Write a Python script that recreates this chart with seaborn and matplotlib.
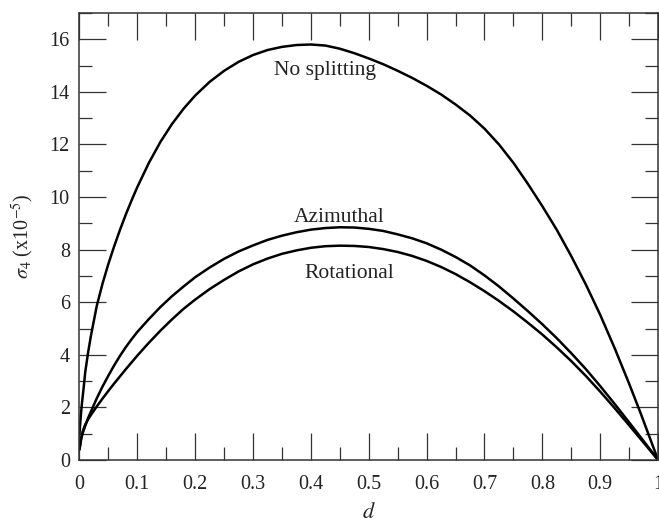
import numpy as np
import pandas as pd
import matplotlib
matplotlib.use('Agg')
import matplotlib.pyplot as plt
import seaborn as sns
from matplotlib.ticker import MultipleLocator, FuncFormatter

# ---- data ----
d_no = [0.0, 0.002, 0.004, 0.007, 0.01, 0.015, 0.02, 0.03, 0.04, 0.05, 0.06,
        0.07, 0.08, 0.09, 0.1, 0.12, 0.14, 0.16, 0.18, 0.2, 0.225, 0.25, 0.275,
        0.3, 0.325, 0.35, 0.375, 0.4, 0.425, 0.45, 0.475, 0.5, 0.525, 0.55,
        0.575, 0.6, 0.625, 0.65, 0.675, 0.7, 0.725, 0.75, 0.775, 0.8, 0.825,
        0.85, 0.875, 0.9, 0.925, 0.95, 0.97, 0.98, 0.99, 1.0]
no_splitting = [1.0, 1.6, 2.1, 2.7, 3.35, 4.1, 4.75, 5.87, 6.72, 7.46, 8.13,
                8.75, 9.33, 9.87, 10.38, 11.3, 12.1, 12.78, 13.36, 13.86, 14.38, 14.8, 15.14,
                15.4, 15.59, 15.71, 15.78, 15.8, 15.76, 15.64, 15.47, 15.27, 15.05, 14.8,
                14.53, 14.23, 13.9, 13.52, 13.1, 12.6, 12.0, 11.3, 10.5, 9.65, 8.75,
                7.75, 6.68, 5.52, 4.25, 2.9, 1.77, 1.18, 0.59, 0.0]

d_lower = [0.0, 0.003, 0.006, 0.01, 0.015, 0.02, 0.03, 0.04, 0.05, 0.06, 0.07,
           0.08, 0.09, 0.1, 0.12, 0.14, 0.16, 0.18, 0.2, 0.225, 0.25, 0.275, 0.3,
           0.325, 0.35, 0.375, 0.4, 0.425, 0.45, 0.475, 0.5, 0.525, 0.55, 0.575,
           0.6, 0.625, 0.65, 0.675, 0.7, 0.725, 0.75, 0.775, 0.8, 0.825, 0.85,
           0.875, 0.9, 0.925, 0.95, 0.975, 1.0]
azimuthal = [0.4, 0.8, 1.05, 1.3, 1.6, 1.85, 2.35, 2.8, 3.21, 3.6, 3.96,
             4.29, 4.59, 4.87, 5.36, 5.82, 6.23, 6.6, 6.95, 7.32, 7.65, 7.93, 8.16,
             8.37, 8.53, 8.66, 8.76, 8.82, 8.85, 8.84, 8.79, 8.71, 8.58, 8.43,
             8.24, 8.0, 7.72, 7.4, 7.02, 6.6, 6.14, 5.66, 5.16, 4.63, 4.06,
             3.46, 2.81, 2.13, 1.43, 0.72, 0.0]
rotational = [0.4, 0.85, 1.12, 1.35, 1.55, 1.72, 2.04, 2.34, 2.63, 2.91, 3.18,
              3.45, 3.71, 3.97, 4.46, 4.92, 5.35, 5.75, 6.1, 6.5, 6.85, 7.17, 7.44,
              7.66, 7.84, 7.97, 8.07, 8.13, 8.15, 8.14, 8.1, 8.02, 7.91, 7.76,
              7.57, 7.34, 7.07, 6.76, 6.42, 6.05, 5.65, 5.22, 4.77, 4.28, 3.76,
              3.2, 2.6, 1.97, 1.32, 0.66, 0.0]

case_labels = ["No splitting", "Azimuthal", "Rotational"]
label_x = [0.425, 0.448, 0.466]
label_y = [14.64, 9.04, 6.91]

x_ticks = [0, 0.1, 0.2, 0.3, 0.4, 0.5, 0.6, 0.7, 0.8, 0.9, 1.0]

df = pd.concat([
    pd.DataFrame({"d": d_no, "sigma": no_splitting, "case": case_labels[0]}),
    pd.DataFrame({"d": d_lower, "sigma": azimuthal, "case": case_labels[1]}),
    pd.DataFrame({"d": d_lower, "sigma": rotational, "case": case_labels[2]}),
], ignore_index=True)

sns.set_theme(style="ticks")
plt.rcParams['font.family'] = ['Liberation Serif', 'DejaVu Serif']
plt.rcParams['mathtext.fontset'] = 'stix'

fig = plt.figure(figsize=(6.59, 5.18), dpi=100)
ax = fig.add_axes([0.1206, 0.112, 0.878, 0.863])

sns.lineplot(data=df, x="d", y="sigma", hue="case", units="case",
             palette=["black"] * 3, estimator=None, sort=False,
             legend=False, linewidth=1.8, ax=ax)
for ln in ax.get_lines():
    ln.set_solid_joinstyle("round")
    ln.set_solid_capstyle("round")

for lab, lx, ly in zip(case_labels, label_x, label_y):
    ax.text(lx, ly, lab, ha="center", va="baseline", fontsize=15.5, color="#222222")

ax.set_xlim(0, 1)
ax.set_ylim(0, 17)
ax.set_xticks(x_ticks)
ax.xaxis.set_minor_locator(MultipleLocator(0.05))
ax.yaxis.set_major_locator(MultipleLocator(2))
ax.yaxis.set_minor_locator(MultipleLocator(1))
ax.xaxis.set_major_formatter(FuncFormatter(lambda v, p: f"{v:g}"))
ax.yaxis.set_major_formatter(FuncFormatter(lambda v, p: f"{v:g}"))

ax.tick_params(which="both", direction="in", top=True, right=True,
               width=0.9, color="#333333", labelsize=14.5, labelcolor="#222222")
ax.tick_params(which="major", length=19.2)
ax.tick_params(which="minor", length=9.6)
ax.tick_params(axis="x", which="major", pad=11)
ax.tick_params(axis="y", which="major", pad=7)

for sp in ax.spines.values():
    sp.set_linewidth(1.1)
    sp.set_color("#333333")

ax.set_xlabel("$d$", fontsize=16, labelpad=6.5)
ax.set_ylabel(r"$\sigma_4$ (x10$^{-5}$)", fontsize=14.5, labelpad=10)

fig.savefig("out.png", dpi=100)
